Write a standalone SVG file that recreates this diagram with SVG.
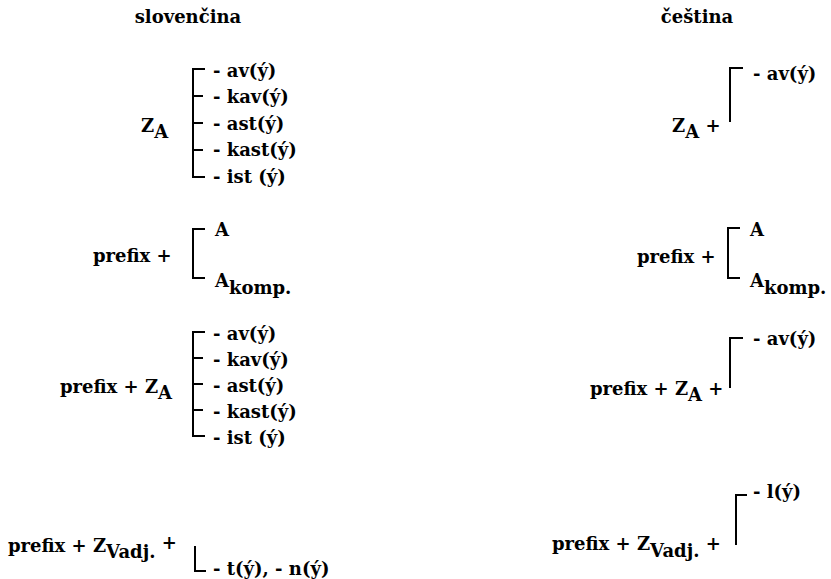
<svg xmlns="http://www.w3.org/2000/svg" width="831" height="579" viewBox="0 0 831 579">
<style>
text{font-family:"DejaVu Serif","Liberation Serif",serif;font-weight:bold;font-size:18px;fill:#000}
.br{fill:none;stroke:#000;stroke-width:2}
.t{text-anchor:middle}
</style>
<rect width="831" height="579" fill="#fff"/>
<g id="titles">
<text class="t" x="188" y="23">slovenčina</text>
<text class="t" x="697" y="23">čeština</text>
</g>
<g id="connectors">
<path class="br" d="M205,69H193V177H205M193,96H203M193,123H203M193,150H203"/>
<path class="br" d="M205,229H193V278H205"/>
<path class="br" d="M205,332H193V436H205M193,358H203M193,384H203M193,410H203"/>
<path class="br" d="M195,546V571H206"/>
<path class="br" d="M743,68H730V122"/>
<path class="br" d="M740,228H728V278H740"/>
<path class="br" d="M743,338H730V388"/>
<path class="br" d="M747,495H736V545"/>
</g>
<g id="sk-1">
<text x="141" y="132">Z<tspan dy="6">A</tspan></text>
<text x="213" y="77">- av(ý)</text>
<text x="213" y="103">- kav(ý)</text>
<text x="213" y="130">- ast(ý)</text>
<text x="213" y="156">- kast(ý)</text>
<text x="213" y="183">- ist (ý)</text>
</g>
<g id="sk-2">
<text x="93" y="262">prefix +</text>
<text x="215" y="236">A</text>
<text x="215" y="287">A<tspan dy="7">komp.</tspan></text>
</g>
<g id="sk-3">
<text x="60" y="393">prefix + Z<tspan dy="6">A</tspan></text>
<text x="213" y="340">- av(ý)</text>
<text x="213" y="366">- kav(ý)</text>
<text x="213" y="392">- ast(ý)</text>
<text x="213" y="418">- kast(ý)</text>
<text x="213" y="444">- ist (ý)</text>
</g>
<g id="sk-4">
<text x="8" y="552">prefix + Z<tspan dy="6">Vadj.</tspan><tspan dy="-9"> +</tspan></text>
<text x="213" y="575">- t(ý), - n(ý)</text>
</g>
<g id="cs-1">
<text x="672" y="132">Z<tspan dy="6">A</tspan><tspan dy="-6"> +</tspan></text>
<text x="753" y="80">- av(ý)</text>
</g>
<g id="cs-2">
<text x="637" y="263">prefix +</text>
<text x="750" y="236">A</text>
<text x="750" y="287">A<tspan dy="7">komp.</tspan></text>
</g>
<g id="cs-3">
<text x="590" y="395">prefix + Z<tspan dy="6">A</tspan><tspan dy="-6"> +</tspan></text>
<text x="753" y="345">- av(ý)</text>
</g>
<g id="cs-4">
<text x="552" y="550">prefix + Z<tspan dy="7">Vadj.</tspan><tspan dy="-7"> +</tspan></text>
<text x="753" y="498">- l(ý)</text>
</g>
</svg>
